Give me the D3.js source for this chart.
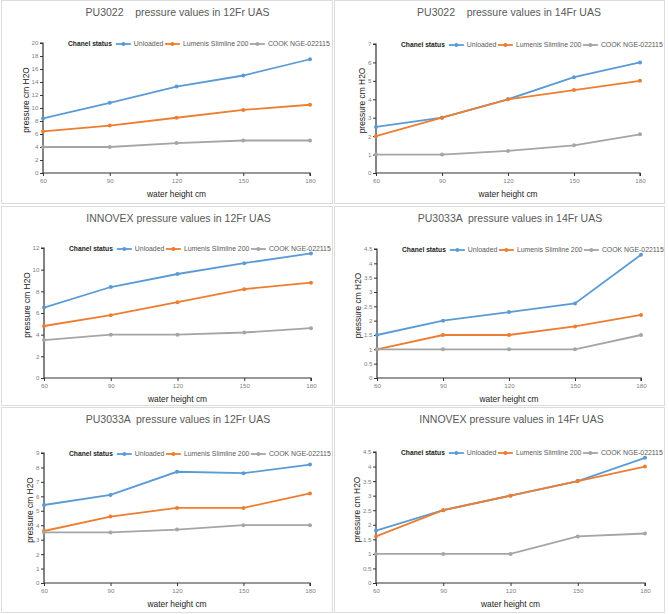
<!DOCTYPE html>
<html>
<head>
<meta charset="utf-8">
<script src="https://cdn.jsdelivr.net/npm/d3@7"></script>
<style>
  body { margin: 0; background: #fff; }
  svg { font-family: "Liberation Sans", Arial, sans-serif; }
  .title { white-space: pre; }
</style>
</head>
<body>
<div id="chart"></div>
<script>
// water height categories (x axis)
const heights = [60, 90, 120, 150, 180];
const seriesNames = ["Unloaded", "Lumenis Slimline 200", "COOK NGE-022115"];
const seriesColors = ["#5B9BD5", "#ED7D31", "#A5A5A5"];

const titles = [
    "PU3022    pressure values in 12Fr UAS",
    "PU3022    pressure values in 14Fr UAS",
    "INNOVEX pressure values in 12Fr UAS",
    "PU3033A  pressure values in 14Fr UAS",
    "PU3033A  pressure values in 12Fr UAS",
    "INNOVEX pressure values in 14Fr UAS"
];

// PU3022 12Fr
const pu3022_12_unloaded = [8.4, 10.8, 13.3, 15, 17.5];
const pu3022_12_lumenis  = [6.4, 7.3, 8.5, 9.7, 10.5];
const pu3022_12_cook     = [4, 4, 4.6, 5, 5];
// PU3022 14Fr
const pu3022_14_unloaded = [2.5, 3, 4, 5.2, 6];
const pu3022_14_lumenis  = [2, 3, 4, 4.5, 5];
const pu3022_14_cook     = [1, 1, 1.2, 1.5, 2.1];
// INNOVEX 12Fr
const innovex_12_unloaded = [6.5, 8.4, 9.6, 10.6, 11.5];
const innovex_12_lumenis  = [4.8, 5.8, 7, 8.2, 8.8];
const innovex_12_cook     = [3.5, 4, 4, 4.2, 4.6];
// PU3033A 14Fr
const pu3033a_14_unloaded = [1.5, 2, 2.3, 2.6, 4.3];
const pu3033a_14_lumenis  = [1, 1.5, 1.5, 1.8, 2.2];
const pu3033a_14_cook     = [1, 1, 1, 1, 1.5];
// PU3033A 12Fr
const pu3033a_12_unloaded = [5.4, 6.1, 7.7, 7.6, 8.2];
const pu3033a_12_lumenis  = [3.6, 4.6, 5.2, 5.2, 6.2];
const pu3033a_12_cook     = [3.5, 3.5, 3.7, 4, 4];
// INNOVEX 14Fr
const innovex_14_unloaded = [1.8, 2.5, 3, 3.5, 4.3];
const innovex_14_lumenis  = [1.6, 2.5, 3, 3.5, 4];
const innovex_14_cook     = [1, 1, 1, 1.6, 1.7];

// y tick labels
const ticks20  = [0, 2, 4, 6, 8, 10, 12, 14, 16, 18, 20];
const ticks7   = [0, 1, 2, 3, 4, 5, 6, 7];
const ticks12  = [0, 2, 4, 6, 8, 10, 12];
const ticks45  = [0, 0.5, 1, 1.5, 2, 2.5, 3, 3.5, 4, 4.5];
const ticks9   = [0, 1, 2, 3, 4, 5, 6, 7, 8, 9];

// layout: frame [x, y, w, h], plot [left, top, right, bottom]
const panels = [
    { title: titles[0], ticks: ticks20, series: [pu3022_12_unloaded, pu3022_12_lumenis, pu3022_12_cook],
      frame: [1, 0, 331, 203], plot: [43, 43, 310, 173] },
    { title: titles[1], ticks: ticks7, series: [pu3022_14_unloaded, pu3022_14_lumenis, pu3022_14_cook],
      frame: [334, 0, 330, 203], plot: [376, 44, 640, 173] },
    { title: titles[2], ticks: ticks12, series: [innovex_12_unloaded, innovex_12_lumenis, innovex_12_cook],
      frame: [1, 206, 331, 199], plot: [44, 248, 311, 378] },
    { title: titles[3], ticks: ticks45, series: [pu3033a_14_unloaded, pu3033a_14_lumenis, pu3033a_14_cook],
      frame: [334, 206, 330, 199], plot: [377, 249, 641, 378] },
    { title: titles[4], ticks: ticks9, series: [pu3033a_12_unloaded, pu3033a_12_lumenis, pu3033a_12_cook],
      frame: [1, 407, 331, 205], plot: [44, 453, 310, 583] },
    { title: titles[5], ticks: ticks45, series: [innovex_14_unloaded, innovex_14_lumenis, innovex_14_cook],
      frame: [334, 407, 330, 205], plot: [376, 452, 645, 583] }
];

const svg = d3.select("#chart").append("svg")
    .attr("width", 669)
    .attr("height", 614);

panels.forEach(function (p) {
    const [fx, fy, fw, fh] = p.frame;
    const [l, t, r, b] = p.plot;

    svg.append("rect")
        .attr("x", fx + 0.5).attr("y", fy + 0.5)
        .attr("width", fw).attr("height", fh)
        .attr("fill", "#fff")
        .attr("stroke", "#dcdcdc");

    const x = d3.scalePoint().domain(heights).range([l, r]);
    const y = d3.scaleLinear()
        .domain([0, d3.max(p.ticks)])
        .range([b, t]);

    // title
    svg.append("text")
        .attr("class", "title")
        .attr("x", (l + r) / 2 + 1)
        .attr("y", fy + 16)
        .attr("text-anchor", "middle")
        .attr("fill", "#595959")
        .style("font-size", "10.5px")
        .text(p.title);

    // axes
    const yAxis = d3.axisLeft(y).tickValues(p.ticks).tickFormat(d3.format("~g"))
        .tickSize(3).tickPadding(1.5);
    const xAxis = d3.axisBottom(x).tickSize(3).tickPadding(3);

    const gy = svg.append("g")
        .attr("transform", `translate(${l},0)`)
        .call(yAxis);
    const gx = svg.append("g")
        .attr("transform", `translate(0,${b})`)
        .call(xAxis);

    [gx, gy].forEach(function (g) {
        g.select(".domain").attr("stroke", "#333").attr("stroke-width", 1.2);
        g.selectAll(".tick line").attr("stroke", "#333");
        g.selectAll(".tick text")
            .attr("fill", "#7f7f7f")
            .style("font-size", "6.2px")
            .style("font-family", "Liberation Sans, Arial, sans-serif");
    });
    gy.select(".domain").attr("d", `M-3,${t}H0V${b}`);
    gx.select(".domain").attr("d", `M${l},0H${r}V3`);

    let labelW = 0;
    gy.selectAll(".tick text").each(function () {
        labelW = Math.max(labelW, this.getComputedTextLength());
    });

    // axis titles
    svg.append("text")
        .attr("x", (l + r) / 2)
        .attr("y", b + 24)
        .attr("text-anchor", "middle")
        .attr("fill", "#222")
        .style("font-size", "8.4px")
        .text("water height cm");

    svg.append("text")
        .attr("transform", `translate(${l - 5 - labelW - 2.5},${(t + b) / 2 - 8}) rotate(-90)`)
        .attr("text-anchor", "middle")
        .attr("fill", "#222")
        .style("font-size", "8.4px")
        .text("pressure cm H2O");

    // lines
    const line = d3.line()
        .x((d, i) => x(heights[i]))
        .y(d => y(d));

    p.series.forEach(function (vals, si) {
        svg.append("path")
            .attr("d", line(vals))
            .attr("fill", "none")
            .attr("stroke", seriesColors[si])
            .attr("stroke-width", 1.8);
        svg.append("g")
            .selectAll("circle")
            .data(vals).enter()
            .append("circle")
            .attr("cx", (d, i) => x(heights[i]))
            .attr("cy", d => y(d))
            .attr("r", 2)
            .attr("fill", seriesColors[si]);
    });

    // legend
    const ly = t + 1;
    let lx = l + 25;
    const head = svg.append("text")
        .attr("x", lx).attr("y", ly + 2.3)
        .attr("fill", "#222")
        .style("font-size", "6.7px")
        .style("font-weight", "600")
        .text("Chanel status");
    lx += head.node().getComputedTextLength() + 4;
    seriesNames.forEach(function (name, si) {
        svg.append("line")
            .attr("x1", lx).attr("x2", lx + 15)
            .attr("y1", ly).attr("y2", ly)
            .attr("stroke", seriesColors[si])
            .attr("stroke-width", 1.8);
        svg.append("circle")
            .attr("cx", lx + 7.5).attr("cy", ly)
            .attr("r", 2)
            .attr("fill", seriesColors[si]);
        lx += 18;
        const tx = svg.append("text")
            .attr("x", lx).attr("y", ly + 2.3)
            .attr("fill", "#595959")
            .style("font-size", "6.9px")
            .text(name);
        lx += tx.node().getComputedTextLength() + 1.5;
    });
});
</script>
</body>
</html>
